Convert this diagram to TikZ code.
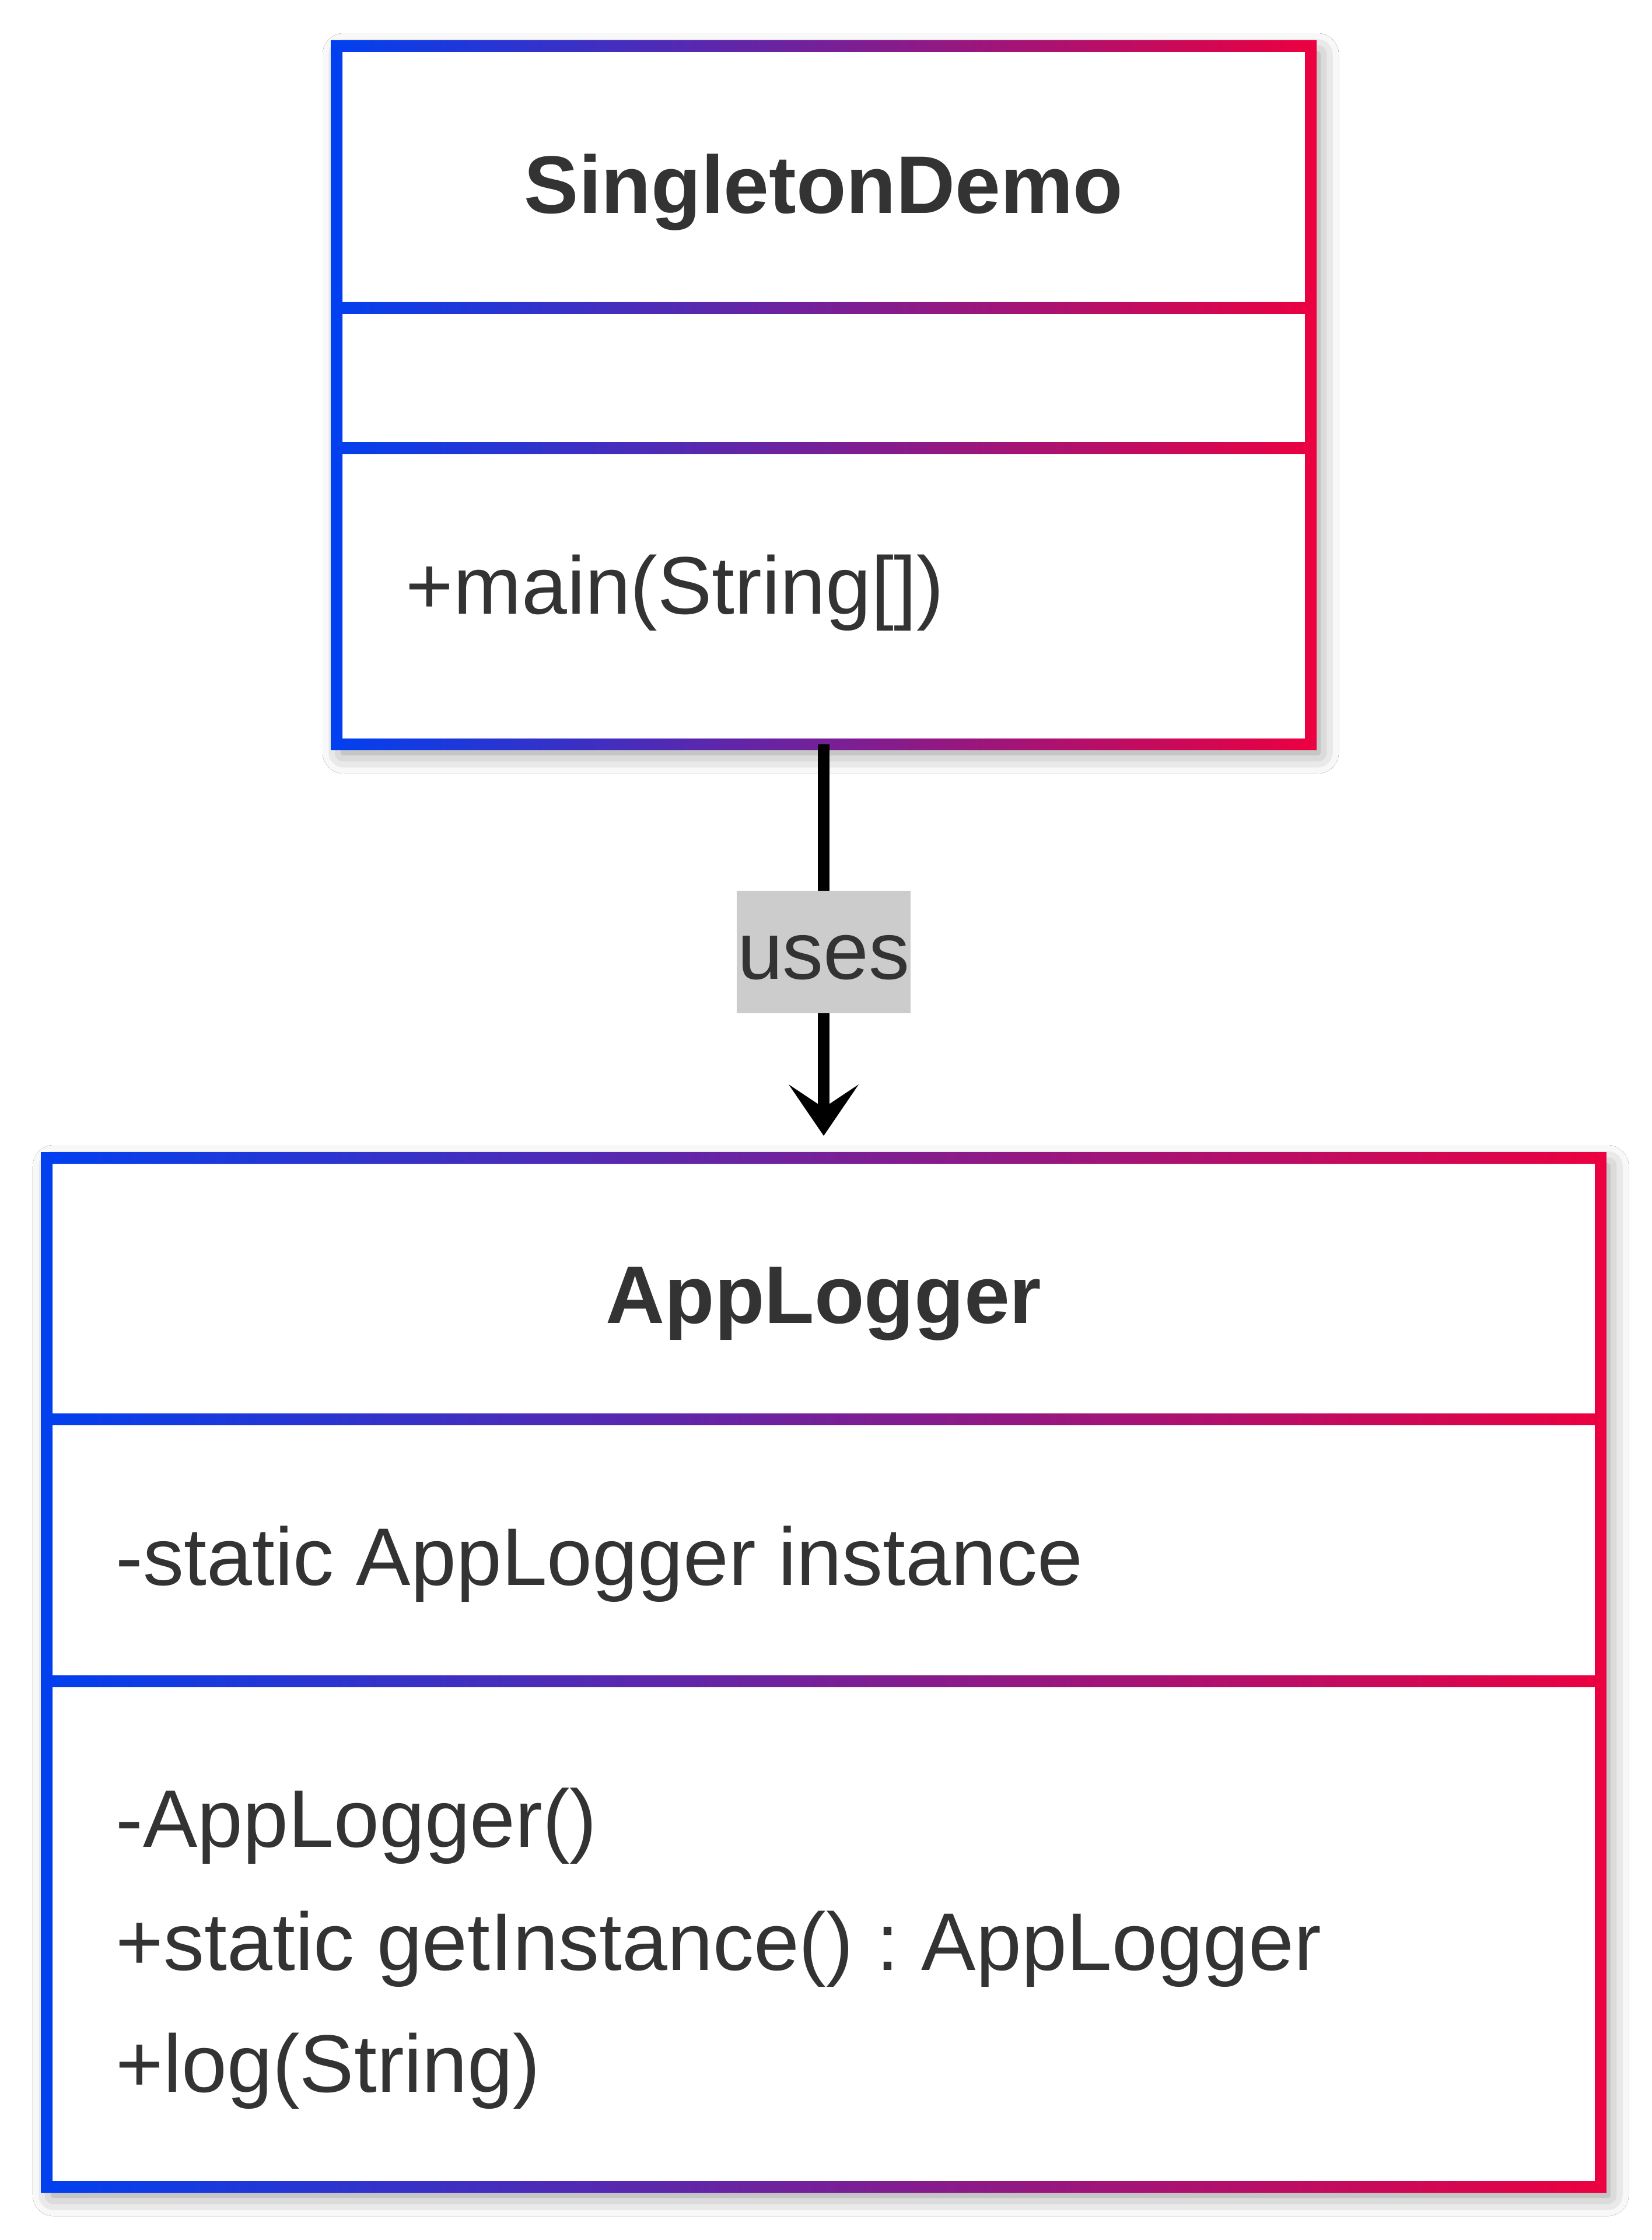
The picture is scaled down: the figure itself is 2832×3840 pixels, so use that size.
\documentclass[tikz,border=0pt]{standalone}
\usepackage{fontspec}
\setmainfont{Liberation Sans}
\frenchspacing
\usetikzlibrary{arrows.meta,shadows.blur}
\definecolor{umlblue}{RGB}{0,64,240}
\definecolor{umlred}{RGB}{236,0,64}
\definecolor{umltext}{RGB}{51,51,51}
\definecolor{umllabel}{RGB}{204,204,204}
% gradient frame: x0 y0 x1 y1 divider1 divider2 (pixel units, centre lines)
\newcommand\umlframe[6]{%
  \begin{scope}
    \clip (#1-10,#2-10) rectangle (#3+10,#2+10)
          (#1-10,#4-10) rectangle (#3+10,#4+10)
          (#1-10,#2-10) rectangle (#1+10,#4+10)
          (#3-10,#2-10) rectangle (#3+10,#4+10)
          (#1-10,#5-10) rectangle (#3+10,#5+10)
          (#1-10,#6-10) rectangle (#3+10,#6+10);
    \shade[left color=umlblue, right color=umlred] (#1-10,#2-10) rectangle (#3+10,#4+10);
  \end{scope}}
\tikzset{
  classbox/.style={rectangle, inner sep=0pt, outer sep=0pt, fill=white, draw=none,
    blur shadow={shadow xshift=3pt, shadow yshift=-3.5pt, shadow blur radius=9pt, shadow opacity=45}},
  titletext/.style={inner sep=0pt, text=umltext, font=\fontsize{35pt}{42pt}\selectfont\bfseries},
  membertext/.style={inner sep=0pt, text=umltext, font=\fontsize{35pt}{42pt}\selectfont},
  labelbox/.style={fill=umllabel, inner sep=0pt, minimum width=74.5pt, minimum height=52.5pt,
    text height=23pt, text depth=0pt, text=umltext, font=\fontsize{35pt}{42pt}\selectfont},
  usesarrow/.style={line width=5pt, draw=black,
    -{Stealth[length=22pt,width=30pt,inset=10pt,line width=0pt]}, shorten >=9.5pt}
}
\begin{document}
\begin{tikzpicture}[x=0.25pt,y=-0.25pt]
  \fill[white] (0,0) rectangle (2832,3840);
  \useasboundingbox (0,0) rectangle (2832,3840);

  % class boxes (background + shadow)
  \node[classbox, minimum width=417.5pt, minimum height=299.25pt] (demo) at (1412,677.5) {};
  \node[classbox, minimum width=666pt, minimum height=441pt] (logger) at (1412,2867) {};

  % gradient borders and compartment dividers
  \umlframe{577}{79}{2247}{1276}{528}{768}
  \umlframe{80}{1985}{2744}{3749}{2433}{2882}

  % SingletonDemo texts
  \node[titletext, anchor=base] (demoname) at (1412,366) {SingletonDemo};
  \node[membertext, anchor=base west] (demomain) at (695,1052) {+main(String[])};

  % AppLogger texts
  \node[titletext, anchor=base] (loggername) at (1412,2268) {AppLogger};
  \node[membertext, anchor=base west] (loggerfield) at (198,2717) {-static AppLogger instance};
  \node[membertext, anchor=base west] (loggerctor) at (198,3166) {-AppLogger()};
  \node[membertext, anchor=base west] (loggerget) at (198,3377) {+static getInstance() : AppLogger};
  \node[membertext, anchor=base west] (loggerlog) at (198,3586) {+log(String)};

  % dependency
  \draw[usesarrow] (demo.south) -- (logger.north);
  \node[labelbox] (useslabel) at (1412,1632) {uses};
\end{tikzpicture}
\end{document}
